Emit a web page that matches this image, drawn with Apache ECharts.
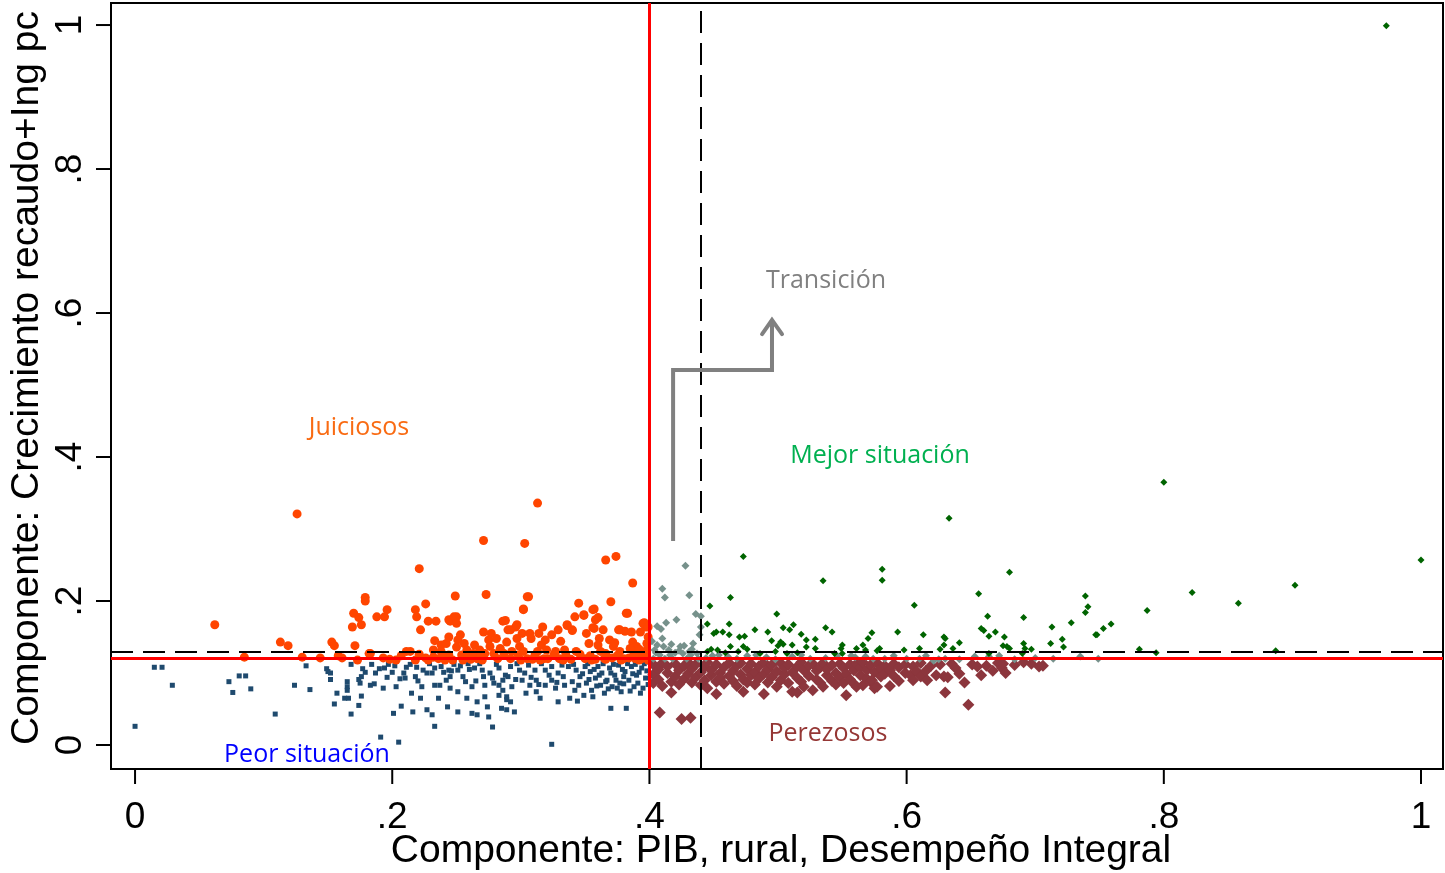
<!DOCTYPE html>
<html>
<head>
<meta charset="utf-8">
<script src="https://cdn.jsdelivr.net/npm/echarts@6/dist/echarts.min.js"></script>
<style>
html,body{margin:0;padding:0;background:#fff;}
#chart{width:1445px;height:873px;}
</style>
</head>
<body>
<div id="chart"></div>
<script>
// ---------- DATA ----------
const xTicks = [0, 0.2, 0.4, 0.6, 0.8, 1];
const xTickLabels = ['0', '.2', '.4', '.6', '.8', '1'];
const yTicks = [0, 0.2, 0.4, 0.6, 0.8, 1];
const yTickLabels = ['0', '.2', '.4', '.6', '.8', '1'];
const xTitle = 'Componente: PIB, rural, Desempeño Integral';
const yTitle = 'Componente: Crecimiento recaudo+Ing pc';

const groupNames = ['Peor situación', 'Juiciosos', 'Perezosos', 'Transición', 'Mejor situación'];

const juiciosos = [
[0.126,0.321],[0.062,0.167],[0.085,0.122],[0.113,0.143],[0.119,0.138],[0.130,0.122],[0.144,0.121],[0.153,0.143],[0.155,0.138],[0.158,0.124],[0.161,0.121],[0.179,0.205],[0.179,0.200],[0.170,0.183],[0.174,0.177],[0.169,0.164],[0.176,0.167],[0.171,0.138],[0.182,0.127],[0.173,0.118],[0.188,0.178],
[0.313,0.336],[0.271,0.284],[0.303,0.280],[0.366,0.257],[0.374,0.262],[0.221,0.245],[0.387,0.225],[0.249,0.207],[0.273,0.209],[0.306,0.206],[0.196,0.188],[0.194,0.178],[0.218,0.188],[0.219,0.178],[0.226,0.196],[0.302,0.189],[0.345,0.197],[0.357,0.189],[0.370,0.199],[0.383,0.183],[0.342,0.178],[0.349,0.180],[0.360,0.177],[0.228,0.172],[0.234,0.172],[0.245,0.172],[0.250,0.178],[0.222,0.160],[0.286,0.172],[0.296,0.164],[0.317,0.164],[0.336,0.166],[0.340,0.159],[0.356,0.163],[0.377,0.160],[0.381,0.158],[0.396,0.170],[0.397,0.164],
[0.183,0.127],[0.211,0.130],[0.214,0.130],[0.203,0.118],[0.218,0.118],[0.228,0.118],[0.232,0.122],[0.232,0.132],[0.236,0.120],[0.238,0.139],[0.238,0.130],[0.242,0.141],[0.244,0.150],[0.244,0.125],[0.241,0.118],[0.244,0.174],[0.248,0.178],[0.250,0.169],[0.251,0.146],[0.253,0.153],[0.250,0.136],[0.247,0.118],[0.254,0.125],[0.255,0.118],[0.258,0.132],[0.259,0.122],[0.263,0.127],[0.264,0.139],[0.266,0.120],[0.268,0.132],[0.271,0.157],[0.272,0.127],[0.275,0.146],[0.276,0.137],[0.277,0.155],[0.279,0.127],[0.281,0.148],[0.282,0.120],[0.289,0.143],[0.290,0.160],
[0.288,0.173],[0.292,0.160],[0.297,0.167],[0.297,0.148],[0.301,0.155],[0.302,0.188],[0.305,0.206],[0.307,0.155],[0.308,0.148],[0.299,0.137],[0.293,0.130],[0.292,0.120],[0.298,0.125],[0.302,0.130],[0.305,0.120],[0.311,0.125],[0.314,0.155],[0.316,0.139],[0.319,0.146],[0.320,0.132],[0.321,0.120],[0.318,0.120],[0.324,0.153],[0.329,0.160],[0.327,0.130],[0.330,0.120],[0.334,0.132],[0.336,0.167],[0.340,0.160],
[0.343,0.130],[0.349,0.181],[0.351,0.155],[0.350,0.120],[0.356,0.188],[0.357,0.162],[0.358,0.174],[0.360,0.139],[0.362,0.130],[0.364,0.160],[0.365,0.120],[0.369,0.146],[0.372,0.137],[0.376,0.160],[0.377,0.130],[0.380,0.120],[0.382,0.183],[0.386,0.157],[0.387,0.143],[0.390,0.137],[0.391,0.127],[0.393,0.157],[0.394,0.120],[0.395,0.169],[0.399,0.164],[0.398,0.132],[0.399,0.150],
[0.193,0.121],[0.198,0.119],[0.207,0.124],[0.221,0.126],[0.226,0.121],[0.335,0.125],[0.339,0.119],[0.346,0.126],[0.354,0.124],[0.358,0.119],[0.366,0.127],[0.371,0.121],[0.375,0.124],[0.384,0.121],[0.388,0.127],[0.392,0.118],[0.396,0.124],[0.398,0.141],[0.385,0.134],[0.373,0.142],[0.361,0.148],[0.353,0.141],[0.331,0.144],[0.326,0.126],[0.313,0.130],[0.309,0.119],[0.287,0.127],[0.284,0.134],[0.269,0.124],[0.261,0.119],[0.256,0.141],[0.239,0.125],[0.233,0.145],[0.366,0.119],[0.392,0.133],[0.270,0.118],[0.300,0.118],[0.315,0.118],[0.333,0.118],[0.355,0.118],[0.378,0.118],[0.389,0.120],[0.399,0.118],[0.397,0.128]
];

const peorSituacion = [
[0.000,0.026],[0.015,0.108],[0.021,0.108],[0.029,0.083],[0.073,0.088],[0.076,0.073],[0.081,0.096],[0.086,0.096],[0.090,0.078],[0.109,0.043],[0.124,0.083],[0.133,0.110],[0.136,0.077],[0.149,0.106],[0.150,0.102],[0.152,0.100],[0.152,0.091],[0.157,0.072],[0.155,0.057],[0.165,0.088],[0.165,0.081],[0.165,0.076],[0.163,0.065],[0.166,0.065],[0.168,0.043],[0.168,0.112],[0.174,0.055],[0.176,0.068],[0.174,0.091],[0.175,0.086],[0.176,0.095],[0.177,0.106],[0.179,0.101],[0.184,0.112],[0.183,0.083],[0.186,0.085],[0.187,0.100],[0.191,0.011],
[0.193,0.079],[0.194,0.107],[0.200,0.101],[0.202,0.110],[0.203,0.081],[0.207,0.054],[0.201,0.044],[0.205,0.004],[0.209,0.100],[0.210,0.093],[0.211,0.108],[0.215,0.072],[0.216,0.046],[0.219,0.108],[0.218,0.095],[0.222,0.065],[0.223,0.081],[0.224,0.104],[0.227,0.100],[0.227,0.049],[0.231,0.100],[0.233,0.107],[0.231,0.042],[0.233,0.083],[0.233,0.026],[0.236,0.065],[0.237,0.083],[0.238,0.109],[0.242,0.090],[0.243,0.053],[0.244,0.104],[0.245,0.079],[0.245,0.095],[0.246,0.103],[0.251,0.104],[0.251,0.074],[0.251,0.046],[0.253,0.110],[0.255,0.095],[0.257,0.088],[0.258,0.065],[0.260,0.105],[0.262,0.081],[0.262,0.044],[0.264,0.107],[0.266,0.060],[0.266,0.042],[0.270,0.104],[0.271,0.095],[0.272,0.083],[0.272,0.067],[0.274,0.053],[0.275,0.039],[0.276,0.100],[0.278,0.025],[0.279,0.086],[0.283,0.107],[0.283,0.083],[0.283,0.069],[0.285,0.051],[0.286,0.090],[0.286,0.076],[0.288,0.097],[0.289,0.063],
[0.292,0.109],[0.290,0.095],[0.293,0.081],[0.289,0.067],[0.292,0.060],[0.289,0.049],[0.295,0.046],[0.299,0.104],[0.301,0.090],[0.303,0.100],[0.306,0.111],[0.307,0.083],[0.311,0.104],[0.312,0.090],[0.312,0.074],[0.315,0.065],[0.319,0.104],[0.319,0.083],[0.324,0.109],[0.324,0.090],[0.327,0.079],[0.329,0.060],[0.329,0.100],[0.333,0.095],[0.334,0.083],[0.337,0.109],[0.338,0.065],[0.340,0.088],[0.342,0.076],[0.343,0.104],[0.346,0.095],[0.349,0.069],[0.350,0.109],[0.351,0.086],[0.354,0.102],[0.355,0.076],[0.358,0.093],[0.360,0.109],[0.362,0.083],[0.363,0.100],[0.365,0.072],[0.367,0.090],[0.369,0.107],[0.371,0.081],[0.370,0.051],[0.373,0.097],[0.376,0.111],[0.377,0.086],[0.378,0.074],[0.382,0.051],[0.381,0.102],[0.384,0.090],[0.386,0.109],[0.388,0.081],[0.390,0.097],[0.391,0.086],[0.394,0.107],[0.395,0.079],[0.397,0.093],[0.324,0.001],
[0.341,0.112],[0.345,0.083],[0.348,0.099],[0.352,0.113],[0.353,0.091],[0.357,0.105],[0.359,0.082],[0.361,0.097],[0.364,0.113],[0.366,0.088],[0.368,0.078],[0.370,0.100],[0.372,0.112],[0.374,0.090],[0.375,0.079],[0.379,0.105],[0.380,0.095],[0.383,0.113],[0.385,0.075],[0.387,0.099],[0.389,0.112],[0.392,0.101],[0.393,0.072],[0.396,0.113],[0.398,0.103],[0.399,0.084],[0.380,0.085],[0.356,0.067],[0.344,0.061],[0.332,0.111],[0.328,0.087],[0.322,0.097],[0.316,0.113],[0.314,0.084],[0.308,0.094],[0.304,0.072],[0.297,0.113],[0.296,0.091],[0.281,0.112],[0.278,0.093],[0.268,0.113],[0.265,0.089],[0.259,0.113],[0.248,0.112],[0.240,0.101],[0.229,0.113],[0.220,0.089],[0.214,0.112],[0.206,0.092],[0.196,0.094],[0.190,0.106],[0.197,0.112]
];

const transicion = [
[0.428,0.249],[0.410,0.217],[0.412,0.205],[0.431,0.208],[0.421,0.174],[0.413,0.170],[0.406,0.165],[0.409,0.161],[0.436,0.182],[0.440,0.179],[0.440,0.164],[0.439,0.153],[0.410,0.148],[0.417,0.140],[0.406,0.139],[0.411,0.137],[0.424,0.137],[0.427,0.138],[0.434,0.141],[0.433,0.133],[0.404,0.132],[0.415,0.132],[0.420,0.128],[0.426,0.127],[0.408,0.125],[0.432,0.125],[0.437,0.127],[0.412,0.120],[0.418,0.120],[0.429,0.120],[0.438,0.120],[0.403,0.120],
[0.454,0.125],[0.461,0.123],[0.483,0.125],[0.491,0.122],[0.511,0.123],[0.518,0.125],[0.525,0.120],[0.557,0.124],[0.560,0.122],[0.568,0.123],[0.574,0.120],[0.590,0.124],[0.600,0.120],[0.610,0.120],[0.615,0.124],[0.621,0.117],[0.625,0.119],[0.630,0.120],[0.653,0.123],[0.664,0.123],[0.684,0.119],[0.735,0.123],[0.749,0.120],
[0.402,0.144],[0.405,0.128],[0.423,0.131],[0.431,0.130],[0.416,0.125],[0.444,0.121],[0.449,0.124],[0.468,0.120],[0.476,0.124],[0.498,0.119],[0.537,0.121],[0.546,0.124],[0.583,0.120],[0.641,0.119],[0.672,0.124],[0.700,0.121],[0.714,0.120]
];

const mejorSituacion = [
[0.473,0.262],[0.535,0.228],[0.463,0.205],[0.447,0.193],[0.445,0.168],[0.452,0.157],[0.450,0.155],[0.462,0.168],[0.457,0.157],[0.462,0.153],[0.470,0.150],[0.474,0.151],[0.482,0.160],[0.499,0.182],[0.492,0.157],[0.504,0.163],[0.509,0.160],[0.512,0.167],[0.518,0.154],[0.495,0.145],[0.502,0.143],[0.500,0.138],[0.504,0.140],[0.511,0.139],[0.522,0.146],[0.522,0.136],[0.529,0.147],[0.537,0.163],[0.542,0.157],[0.529,0.134],[0.445,0.130],[0.448,0.133],[0.453,0.132],[0.459,0.128],[0.463,0.137],[0.469,0.130],[0.473,0.137],[0.476,0.133],[0.486,0.127],[0.498,0.130],[0.507,0.127],[0.515,0.128],[0.544,0.127],
[0.550,0.139],[0.549,0.134],[0.550,0.127],[0.561,0.134],[0.566,0.139],[0.568,0.132],[0.570,0.148],[0.573,0.156],[0.577,0.131],[0.579,0.134],[0.581,0.244],[0.581,0.229],[0.593,0.157],[0.598,0.132],[0.606,0.194],[0.610,0.134],[0.613,0.153],[0.626,0.133],[0.629,0.150],[0.630,0.148],[0.629,0.139],[0.636,0.134],[0.641,0.142],[0.656,0.210],[0.663,0.179],[0.658,0.162],[0.660,0.159],[0.664,0.151],[0.664,0.127],[0.669,0.157],[0.676,0.150],[0.675,0.138],[0.678,0.137],[0.680,0.134],[0.680,0.240],[0.691,0.177],[0.691,0.141],[0.692,0.134],[0.690,0.127],[0.697,0.133],[0.713,0.164],[0.712,0.141],[0.721,0.147],[0.722,0.136],[0.728,0.170],
[0.739,0.207],[0.741,0.192],[0.739,0.184],[0.747,0.153],[0.748,0.153],[0.753,0.162],[0.759,0.168],[0.781,0.133],[0.787,0.187],[0.794,0.128],[0.800,0.365],[0.822,0.212],[0.858,0.197],[0.887,0.131],[0.902,0.222],[1.000,0.257],[0.973,0.999],[0.633,0.315]
];

const perezosos = [
[0.403,0.112],[0.403,0.098],[0.403,0.086],[0.407,0.105],[0.407,0.091],[0.410,0.114],[0.410,0.082],[0.414,0.100],[0.414,0.109],[0.417,0.073],[0.417,0.088],[0.420,0.113],[0.420,0.095],[0.423,0.104],[0.423,0.084],[0.427,0.110],[0.427,0.092],[0.430,0.099],[0.430,0.115],[0.433,0.087],[0.433,0.106],[0.436,0.112],[0.436,0.094],[0.440,0.101],[0.440,0.083],[0.443,0.109],[0.443,0.090],[0.445,0.079],[0.445,0.115],[0.448,0.097],[0.448,0.104],
[0.452,0.071],[0.452,0.112],[0.452,0.088],[0.455,0.100],[0.455,0.093],[0.458,0.108],[0.458,0.085],[0.462,0.114],[0.462,0.096],[0.465,0.089],[0.465,0.103],[0.468,0.110],[0.468,0.082],[0.471,0.098],[0.471,0.114],[0.473,0.074],[0.473,0.091],[0.476,0.106],[0.476,0.087],[0.479,0.113],[0.479,0.097],[0.482,0.084],[0.482,0.101],[0.485,0.109],[0.485,0.092],[0.489,0.071],[0.489,0.115],[0.489,0.099],[0.492,0.087],[0.492,0.105],[0.495,0.111],[0.495,0.094],[0.499,0.081],[0.499,0.102],
[0.502,0.114],[0.502,0.090],[0.505,0.098],[0.505,0.107],[0.508,0.086],[0.508,0.112],[0.511,0.074],[0.511,0.101],[0.515,0.073],[0.515,0.109],[0.515,0.093],[0.518,0.115],[0.518,0.088],[0.520,0.081],[0.520,0.104],[0.524,0.110],[0.524,0.096],[0.527,0.076],[0.527,0.113],[0.530,0.091],[0.530,0.103],[0.533,0.108],[0.533,0.086],[0.535,0.081],[0.535,0.114],[0.538,0.097],[0.538,0.105],[0.542,0.089],[0.542,0.111],[0.545,0.100],[0.545,0.084],[0.548,0.113],[0.548,0.094],
[0.551,0.086],[0.551,0.107],[0.553,0.069],[0.553,0.099],[0.556,0.112],[0.556,0.091],[0.559,0.104],[0.559,0.085],[0.561,0.081],[0.561,0.113],[0.564,0.097],[0.564,0.108],[0.566,0.083],[0.566,0.115],[0.569,0.092],[0.569,0.104],[0.572,0.088],[0.572,0.111],[0.573,0.090],[0.575,0.079],[0.575,0.101],[0.577,0.081],[0.577,0.114],[0.580,0.095],[0.580,0.107],[0.583,0.110],[0.583,0.099],[0.587,0.082],[0.587,0.104],[0.590,0.113],[0.590,0.096],[0.594,0.089],[0.594,0.108],[0.599,0.100],[0.599,0.112],
[0.603,0.097],[0.605,0.109],[0.605,0.090],[0.608,0.102],[0.611,0.114],[0.611,0.095],[0.615,0.103],[0.616,0.090],[0.619,0.110],[0.623,0.097],[0.626,0.112],[0.629,0.095],[0.630,0.073],[0.632,0.094],[0.635,0.113],[0.638,0.107],[0.641,0.099],[0.645,0.087],[0.648,0.056],[0.651,0.112],[0.655,0.109],[0.658,0.097],[0.662,0.110],[0.667,0.103],[0.671,0.114],[0.674,0.107],[0.675,0.113],[0.677,0.100],[0.684,0.111],[0.691,0.115],[0.697,0.113],[0.703,0.109],[0.706,0.110],
[0.408,0.045],[0.425,0.036],[0.432,0.038]
];

// reference lines (data units)
const redVLine = 0.4;
const redHLine = 0.1167;
const dashVLine = 0.4417;
const dashHLine = 0.1264;

// annotation arrow path (data units)
const arrowPath = [[0.4184,0.2833],[0.4184,0.5208],[0.4953,0.5208],[0.4953,0.5875]];
const arrowHead = [[0.4876,0.5708],[0.4953,0.5903],[0.5031,0.5708]];

// ---------- CHART ----------
const GRID = {left: 111, right: 2, top: 3, bottom: 104};
const W = 1445, H = 873;
const TICKLEN = 15;
const chart = echarts.init(document.getElementById('chart'), null, {renderer: 'canvas', width: W, height: H});
const AXFONT = "'Liberation Sans', Arial, sans-serif";
const NOTEFONT = "'Open Sans', 'Noto Sans', sans-serif";

function lab(ticks, labels) {
  return function (v) {
    for (let i = 0; i < ticks.length; i++) if (Math.abs(ticks[i] - v) < 1e-9) return labels[i];
    return '';
  };
}
function txt(text, x, y, font, fill, rot) {
  const g = {type: 'text', x: x, y: y, z: 100, silent: true,
    style: {text: text, font: font, fill: fill, align: 'center', verticalAlign: 'middle', textAlign: 'center', textVerticalAlign: 'middle'}};
  if (rot) g.rotation = rot;
  return g;
}

const baseGraphics = [
  txt(xTitle, 781, 851, "39px " + AXFONT, '#000'),
  txt(yTitle, 27, 378, "39px " + AXFONT, '#000', Math.PI / 2),
  txt(groupNames[1], 359, 428, "25px " + NOTEFONT, '#F96B13'),
  txt(groupNames[4], 880, 456, "25px " + NOTEFONT, '#00B050'),
  txt(groupNames[3], 826, 281, "25px " + NOTEFONT, '#808080'),
  txt(groupNames[2], 828, 734, "25px " + NOTEFONT, '#953735'),
  txt(groupNames[0], 307, 755, "25px " + NOTEFONT, '#0000FF')
];

const scatterBase = {type: 'scatter', animation: false, silent: true};

const option = {
  animation: false,
  backgroundColor: '#fff',
  grid: Object.assign({show: true, borderColor: '#000', borderWidth: 2, backgroundColor: '#fff'}, GRID),
  xAxis: {
    type: 'value', min: -0.0187, max: 1.0171,
    axisLine: {show: false, onZero: false}, splitLine: {show: false},
    axisTick: {show: false},
    axisLabel: {customValues: xTicks, formatter: lab(xTicks, xTickLabels), fontSize: 37, color: '#000', fontFamily: AXFONT, margin: 30}
  },
  yAxis: {
    type: 'value', min: -0.0333, max: 1.0306,
    axisLine: {show: false, onZero: false}, splitLine: {show: false},
    axisTick: {show: false},
    axisLabel: {customValues: yTicks, formatter: lab(yTicks, yTickLabels), fontSize: 37, color: '#000', fontFamily: AXFONT, rotate: 90, margin: 22}
  },
  graphic: baseGraphics,
  series: [
    {
      type: 'line', data: [], silent: true, z: 1,
      markLine: {
        silent: true, symbol: ['none', 'none'], animation: false, label: {show: false},
        data: [
          {xAxis: dashVLine, lineStyle: {color: '#000', width: 2, type: [22, 10]}},
          {yAxis: dashHLine, lineStyle: {color: '#000', width: 2, type: [22, 10]}},
          {xAxis: redVLine, lineStyle: {color: '#FF0000', width: 3, type: 'solid'}},
          {yAxis: redHLine, lineStyle: {color: '#FF0000', width: 3, type: 'solid'}}
        ]
      }
    },
    Object.assign({}, scatterBase, {name: groupNames[0], data: peorSituacion, symbol: 'rect', symbolSize: 5, itemStyle: {color: '#1F4A6E', opacity: 1}, z: 3}),
    Object.assign({}, scatterBase, {name: groupNames[1], data: juiciosos, symbol: 'circle', symbolSize: 9, itemStyle: {color: '#FF4500', opacity: 1}, z: 3}),
    Object.assign({}, scatterBase, {name: groupNames[2], data: perezosos, symbol: 'diamond', symbolSize: 12, itemStyle: {color: '#8C363D', opacity: 1}, z: 3}),
    Object.assign({}, scatterBase, {name: groupNames[3], data: transicion, symbol: 'diamond', symbolSize: 8, itemStyle: {color: '#76918B', opacity: 1}, z: 4}),
    Object.assign({}, scatterBase, {name: groupNames[4], data: mejorSituacion, symbol: 'diamond', symbolSize: 7, itemStyle: {color: '#006400', opacity: 1}, z: 4}),
    {type: 'line', data: arrowPath, silent: true, showSymbol: false, symbol: 'none', z: 10, animation: false,
     lineStyle: {color: '#808080', width: 4, join: 'miter', cap: 'butt'}},
    {type: 'line', data: arrowHead, silent: true, showSymbol: false, symbol: 'none', z: 10, animation: false,
     lineStyle: {color: '#808080', width: 4, join: 'miter', cap: 'round'}}
  ]
};
chart.setOption(option);

// outward tick marks, positioned through the axes' own scales
const gridBottom = H - GRID.bottom;
const gridLeft = GRID.left;
const tickGraphics = [];
xTicks.forEach(function (v) {
  const px = chart.convertToPixel({xAxisIndex: 0}, v);
  tickGraphics.push({type: 'line', silent: true, z: 50,
    shape: {x1: px, y1: gridBottom, x2: px, y2: gridBottom + TICKLEN},
    style: {stroke: '#000', lineWidth: 2}});
});
yTicks.forEach(function (v) {
  const py = chart.convertToPixel({yAxisIndex: 0}, v);
  tickGraphics.push({type: 'line', silent: true, z: 50,
    shape: {x1: gridLeft - TICKLEN, y1: py, x2: gridLeft, y2: py},
    style: {stroke: '#000', lineWidth: 2}});
});
chart.setOption({graphic: baseGraphics.concat(tickGraphics)});
</script>
</body>
</html>
